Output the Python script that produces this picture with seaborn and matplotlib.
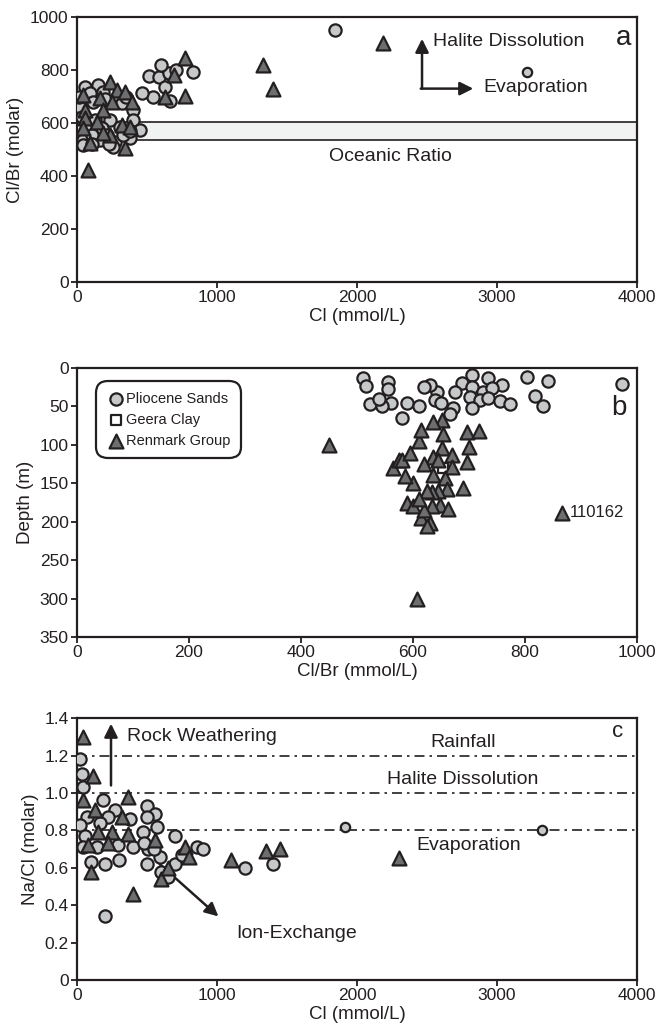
import matplotlib
matplotlib.use('Agg')
import matplotlib.pyplot as plt
import seaborn as sns
import pandas as pd

# ---- panel a: Cl vs Cl/Br ----
a_plio_cl = [57, 150, 93, 186, 21, 114, 286, 321, 400, 36, 129, 236, 400, 71, 179, 307, 450, 43,
             164, 271, 379, 43, 257, 107, 214, 329, 15, 200, 350, 110, 230, 380,
             514, 586, 657, 707, 629, 664, 543, 464, 600, 829, 1843]
a_plio_clbr = [736, 743, 713, 717, 660, 679, 694, 675, 649, 623, 611, 611, 611, 574, 581, 585, 574, 536,
               536, 528, 543, 517, 509, 555, 555, 555, 700, 690, 700, 520, 520, 570,
               777, 773, 790, 800, 736, 683, 698, 713, 819, 792, 951]
a_small_cl = [3214]
a_small_clbr = [793]
a_renm_cl = [43, 236, 164, 286, 343, 250, 393, 57, 186, 57, 143, 43, 321, 379, 236, 93, 343, 186,
             79, 629, 693, 771, 771, 1329, 1400, 2186]
a_renm_clbr = [706, 755, 694, 725, 717, 679, 679, 649, 649, 619, 604, 581, 592, 585, 555, 525, 506, 562,
               423, 698, 781, 845, 702, 819, 728, 902]
ocean_lo, ocean_hi = 536, 604

# ---- panel b: Cl/Br vs depth ----
b_plio_clbr = [705, 734, 803, 841, 973, 688, 759, 675, 705, 725, 741, 702, 720, 734, 755, 773, 818, 832,
               705, 671, 666, 643, 639, 630, 511, 516, 523, 555, 555, 560, 545, 590, 580, 620, 610,
               650, 540]
b_plio_depth = [9, 13, 12, 17, 21, 20, 22, 31, 25, 31, 26, 38, 42, 39, 43, 47, 36, 49,
                52, 52, 60, 31, 42, 22, 13, 23, 47, 18, 27, 45, 50, 45, 65, 25, 50,
                45, 40]
b_geera_clbr = [654]
b_geera_depth = [130]
b_renm_clbr = [652, 636, 654, 696, 718, 700, 652, 670, 636, 645, 696, 670, 636, 657, 689, 661, 645, 634,
               648, 662, 634, 630, 450, 565, 575, 580, 595, 610, 615, 600, 590, 600, 615, 625, 607,
               585, 620, 625, 620, 610, 866]
b_renm_depth = [68, 70, 86, 83, 82, 103, 104, 113, 116, 119, 122, 129, 139, 143, 156, 158, 160, 161,
                178, 184, 180, 201, 100, 130, 120, 120, 110, 95, 80, 150, 175, 180, 195, 205, 300,
                140, 125, 160, 185, 170, 188]

# ---- panel c: Cl vs Na/Cl ----
c_plio_cl = [21, 36, 43, 186, 500, 557, 271, 71, 21, 221, 379, 500, 571, 164, 700, 857, 471, 57, 400,
             143, 293, 43, 593, 507, 200, 600, 650, 700, 750, 900, 1200, 1400, 100, 200, 300, 500,
             550, 480]
c_plio_nacl = [1.18, 1.10, 1.03, 0.96, 0.93, 0.89, 0.91, 0.87, 0.83, 0.87, 0.86, 0.87, 0.82, 0.84, 0.77,
               0.71, 0.79, 0.77, 0.71, 0.71, 0.72, 0.71, 0.66, 0.70, 0.34, 0.58, 0.55, 0.62, 0.67, 0.70,
               0.60, 0.62, 0.63, 0.62, 0.64, 0.62, 0.70, 0.73]
c_small_cl = [1914, 3321]
c_small_nacl = [0.82, 0.80]
c_renm_cl = [43, 114, 43, 364, 129, 321, 771, 557, 150, 250, 364, 79, 221,
             1100, 1350, 1450, 2300, 400, 600, 650, 100, 800]
c_renm_nacl = [1.30, 1.09, 0.96, 0.98, 0.91, 0.87, 0.71, 0.75, 0.79, 0.79, 0.78, 0.72, 0.73,
               0.64, 0.69, 0.70, 0.65, 0.46, 0.54, 0.60, 0.58, 0.66]
c_lines = [1.2, 1.0, 0.8]

INK = '#231f20'
PLIO = '#c6c8ca'
RENM = '#6d6e70'

sns.set_style("ticks")
plt.rcParams['font.family'] = ['Liberation Sans', 'DejaVu Sans']
plt.rcParams['text.color'] = INK
plt.rcParams['axes.labelcolor'] = INK


def pts(ax, x, y, marker, face, size, label=None):
    df = pd.DataFrame({'x': x, 'y': y})
    sns.scatterplot(data=df, x='x', y='y', ax=ax, marker=marker, color=face, s=size,
                    edgecolor=INK, linewidth=1.6, zorder=4, label=label, legend=False)


def style(ax):
    for sp in ax.spines.values():
        sp.set_linewidth(1.6)
        sp.set_color(INK)
    ax.tick_params(direction='out', length=4, width=1.3, labelsize=12.5, colors=INK, pad=2)


fig = plt.figure(figsize=(6.59, 10.35), dpi=100)
ax_a = fig.add_axes([0.1168, 0.7275, 0.850, 0.2560])
ax_b = fig.add_axes([0.1168, 0.3845, 0.850, 0.2599])
ax_c = fig.add_axes([0.1168, 0.0531, 0.850, 0.2531])

# panel a
ax_a.axhspan(ocean_lo, ocean_hi, facecolor='#f1f2f2', edgecolor=INK, lw=1.2, zorder=1)
pts(ax_a, a_plio_cl, a_plio_clbr, 'o', PLIO, 78)
pts(ax_a, a_small_cl, a_small_clbr, 'o', PLIO, 45)
pts(ax_a, a_renm_cl, a_renm_clbr, '^', RENM, 100)
ax_a.set_xlim(0, 4000)
ax_a.set_ylim(0, 1000)
ax_a.set_xticks(range(0, 4001, 1000))
ax_a.set_yticks(range(0, 1001, 200))
ax_a.set_xlabel('Cl (mmol/L)', fontsize=13.5, labelpad=2)
ax_a.set_ylabel('Cl/Br (molar)', fontsize=13.5, labelpad=4)
ax_a.text(2236, 472, 'Oceanic Ratio', fontsize=14, ha='center', va='center')
arrow = dict(arrowstyle='-|>', color=INK, lw=1.8, mutation_scale=20, shrinkA=0, shrinkB=0)
ax_a.annotate('', xy=(2464, 918), xytext=(2464, 730), arrowprops=arrow)
ax_a.annotate('', xy=(2830, 730), xytext=(2455, 730), arrowprops=arrow)
ax_a.text(2543, 906, 'Halite Dissolution', fontsize=14, ha='left', va='center')
ax_a.text(2900, 736, 'Evaporation', fontsize=14, ha='left', va='center')
ax_a.text(3900, 922, 'a', fontsize=20, ha='center', va='center')
style(ax_a)

# panel b
pts(ax_b, b_plio_clbr, b_plio_depth, 'o', PLIO, 78, 'Pliocene Sands')
pts(ax_b, b_geera_clbr, b_geera_depth, 's', 'white', 55, 'Geera Clay')
pts(ax_b, b_renm_clbr, b_renm_depth, '^', RENM, 100, 'Renmark Group')
ax_b.set_xlim(0, 1000)
ax_b.set_ylim(350, 0)
ax_b.set_xticks(range(0, 1001, 200))
ax_b.set_yticks(range(0, 351, 50))
ax_b.set_xlabel('Cl/Br (mmol/L)', fontsize=13.5, labelpad=2)
ax_b.set_ylabel('Depth (m)', fontsize=13.5, labelpad=4)
ax_b.text(880, 188, '110162', fontsize=12, ha='left', va='center')
ax_b.text(968, 52, 'b', fontsize=20, ha='center', va='center')
leg = ax_b.legend(loc='upper left', bbox_to_anchor=(0.041, 0.937), borderaxespad=0,
                  fontsize=10.5, handletextpad=0.05, handlelength=1.3, labelspacing=0.5,
                  borderpad=0.45, frameon=True, fancybox=True, framealpha=1)
leg.get_frame().set_edgecolor(INK)
leg.get_frame().set_linewidth(1.6)
leg.get_frame().set_boxstyle('round', pad=0.25, rounding_size=0.8)
style(ax_b)

# panel c
for yv in c_lines:
    ax_c.axhline(yv, color=INK, lw=1.2, dashes=(6, 3, 1.5, 3), zorder=2)
pts(ax_c, c_plio_cl, c_plio_nacl, 'o', PLIO, 78)
pts(ax_c, c_small_cl, c_small_nacl, 'o', PLIO, 45)
pts(ax_c, c_renm_cl, c_renm_nacl, '^', RENM, 100)
ax_c.set_xlim(0, 4000)
ax_c.set_ylim(0, 1.4)
ax_c.set_xticks(range(0, 4001, 1000))
ax_c.set_yticks([0, 0.2, 0.4, 0.6, 0.8, 1.0, 1.2, 1.4])
ax_c.set_yticklabels(['0', '0.2', '0.4', '0.6', '0.8', '1.0', '1.2', '1.4'])
ax_c.set_xlabel('Cl (mmol/L)', fontsize=13.5, labelpad=2)
ax_c.set_ylabel('Na/Cl (molar)', fontsize=13.5, labelpad=4)
ax_c.annotate('', xy=(243, 1.37), xytext=(243, 1.04), arrowprops=arrow)
ax_c.text(357, 1.30, 'Rock Weathering', fontsize=14, ha='left', va='center')
ax_c.annotate('', xy=(1010, 0.34), xytext=(590, 0.62), arrowprops=arrow)
ax_c.text(1140, 0.25, 'Ion-Exchange', fontsize=14, ha='left', va='center')
ax_c.text(2757, 1.27, 'Rainfall', fontsize=14, ha='center', va='center')
ax_c.text(2757, 1.07, 'Halite Dissolution', fontsize=14, ha='center', va='center')
ax_c.text(2800, 0.72, 'Evaporation', fontsize=14, ha='center', va='center')
ax_c.text(3860, 1.33, 'c', fontsize=16, ha='center', va='center')
style(ax_c)

plt.savefig('out.png', dpi=100)
